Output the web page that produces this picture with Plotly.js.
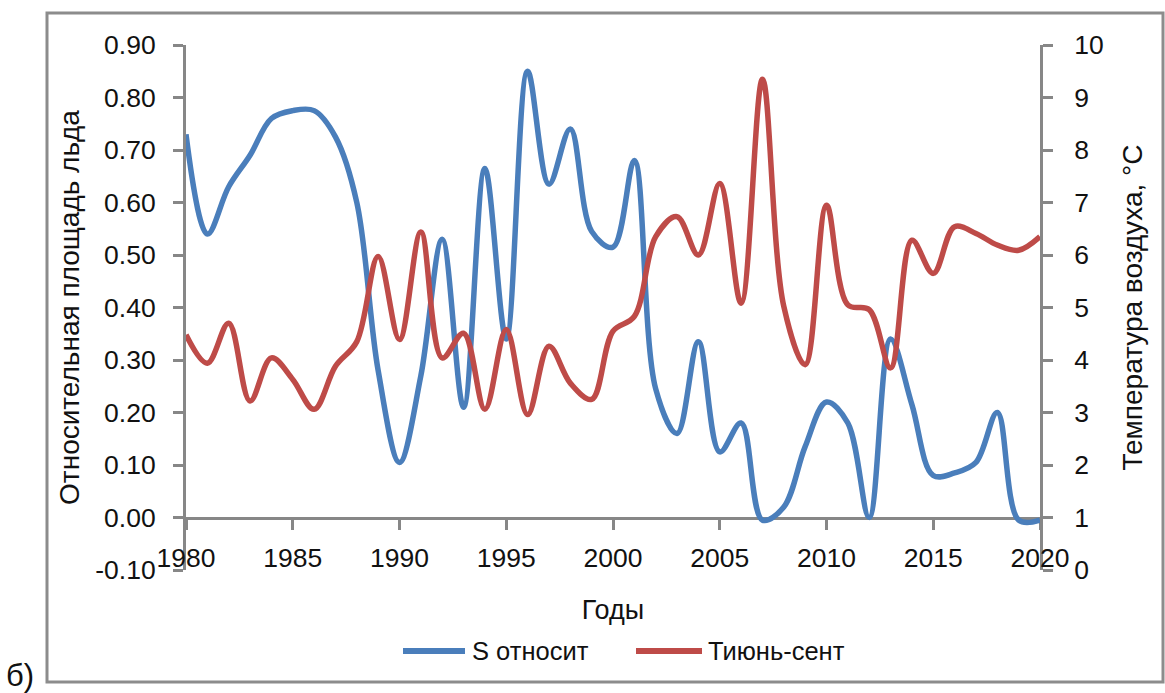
<!DOCTYPE html>
<html>
<head>
<meta charset="utf-8">
<script src="https://cdn.plot.ly/plotly-3.0.1.min.js"></script>
<style>
  html, body { margin: 0; padding: 0; background: #ffffff; }
  #chart { width: 1165px; height: 693px; }
</style>
</head>
<body>
<div id="chart"></div>
<script>
// Years of observation
const years = [
  1980, 1981, 1982, 1983, 1984, 1985, 1986, 1987, 1988, 1989,
  1990, 1991, 1992, 1993, 1994, 1995, 1996, 1997, 1998, 1999,
  2000, 2001, 2002, 2003, 2004, 2005, 2006, 2007, 2008, 2009,
  2010, 2011, 2012, 2013, 2014, 2015, 2016, 2017, 2018, 2019,
  2020
];

// Relative ice area (left axis)
const iceShare = [
  0.73, 0.54, 0.63, 0.69, 0.76, 0.775, 0.775, 0.725, 0.60, 0.28,
  0.105, 0.27, 0.53, 0.21, 0.665, 0.34, 0.85, 0.635, 0.74, 0.545,
  0.515, 0.68, 0.245, 0.16, 0.335, 0.125, 0.18, -0.005, 0.02, 0.135,
  0.22, 0.18, 0.0, 0.34, 0.215, 0.08, 0.085, 0.105, 0.20, -0.005,
  -0.005
];

// Mean June–September air temperature, °C (right axis)
const airTemp = [
  4.48, 3.94, 4.70, 3.22, 4.04, 3.63, 3.06, 3.88, 4.35, 5.97,
  4.39, 6.44, 4.04, 4.51, 3.06, 4.58, 2.96, 4.26, 3.56, 3.25,
  4.55, 4.83, 6.35, 6.73, 6.00, 7.36, 5.08, 9.35, 5.02, 3.91,
  6.95, 5.05, 4.96, 3.85, 6.28, 5.65, 6.54, 6.41, 6.19, 6.09,
  6.35
];

// Left-axis tick values (labels printed with two decimals)
const leftTicks = [-0.1, 0, 0.1, 0.2, 0.3, 0.4, 0.5, 0.6, 0.7, 0.8, 0.9];

const seriesNames = ['S относит', 'Тиюнь-сент'];
const seriesColors = ['#4a7ebb', '#be4b48'];

const titles = {
  x: 'Годы',
  yLeft: 'Относительная площадь льда',
  yRight: 'Температура воздуха, °С',
  panel: 'б)'
};

// Canvas and plot-area geometry (pixels)
const W = 1165, H = 693;
const M = { l: 186, r: 125, t: 45, b: 123 };
const PW = W - M.l - M.r, PH = H - M.t - M.b;
const px = x => (x - M.l) / PW;          // pixel x -> paper x
const py = y => (H - M.b - y) / PH;      // pixel y -> paper y

const FONT = 'Liberation Sans, Arial, sans-serif';
const TXT = '#111111';
const AXIS = '#878787';

const traces = [
  {
    x: years, y: iceShare, name: seriesNames[0], type: 'scatter', mode: 'lines',
    line: { color: seriesColors[0], width: 5.5, shape: 'spline', smoothing: 1 },
    yaxis: 'y', showlegend: false, cliponaxis: false
  },
  {
    x: years, y: airTemp, name: seriesNames[1], type: 'scatter', mode: 'lines',
    line: { color: seriesColors[1], width: 5.5, shape: 'spline', smoothing: 1 },
    yaxis: 'y2', showlegend: false, cliponaxis: false
  }
];

// Hand-built legend: line sample + label for each series
const legendY = py(651);
const legendItems = [
  { x0: 403, x1: 465, tx: 470 },
  { x0: 636, x1: 702, tx: 706 }
];
const shapes = [
  // outer frame
  { type: 'rect', xref: 'paper', yref: 'paper',
    x0: px(47), x1: px(1163), y0: py(682), y1: py(13),
    line: { color: '#8c8c8c', width: 3 }, fillcolor: 'rgba(0,0,0,0)', layer: 'below' }
];
const annotations = [];
legendItems.forEach((it, i) => {
  shapes.push({ type: 'line', xref: 'paper', yref: 'paper',
    x0: px(it.x0), x1: px(it.x1), y0: legendY, y1: legendY,
    line: { color: seriesColors[i], width: 6 } });
  annotations.push({ xref: 'paper', yref: 'paper', x: px(it.tx), y: legendY,
    xanchor: 'left', yanchor: 'middle', showarrow: false,
    text: seriesNames[i], font: { family: FONT, size: 25.5, color: TXT } });
});
annotations.push({ xref: 'paper', yref: 'paper', x: px(4), y: py(675),
  xanchor: 'left', yanchor: 'middle', showarrow: false,
  text: titles.panel, font: { family: FONT, size: 31, color: TXT } });

const layout = {
  width: W, height: H,
  margin: M,
  paper_bgcolor: '#ffffff', plot_bgcolor: '#ffffff',
  font: { family: FONT, size: 26, color: TXT },
  showlegend: false,
  xaxis: {
    range: [1980, 2020], dtick: 5, tick0: 1980,
    anchor: 'free', position: 0.1,
    showgrid: false, zeroline: false,
    showline: true, linecolor: AXIS, linewidth: 3,
    ticks: 'outside', ticklen: 10, tickwidth: 3, tickcolor: AXIS,
    ticklabelstandoff: 6,
    tickfont: { family: FONT, size: 26.5, color: TXT },
    title: { text: titles.x, standoff: 27, font: { family: FONT, size: 27, color: TXT } },
    layer: 'below traces', fixedrange: true
  },
  yaxis: {
    range: [-0.1, 0.9],
    tickmode: 'array', tickvals: leftTicks,
    ticktext: leftTicks.map(v => v.toFixed(2)),
    showgrid: false, zeroline: false,
    showline: true, linecolor: AXIS, linewidth: 3,
    ticks: 'outside', ticklen: 10, tickwidth: 3, tickcolor: AXIS,
    ticklabelstandoff: 12,
    tickfont: { family: FONT, size: 26.5, color: TXT },
    title: { text: titles.yLeft, standoff: 8, font: { family: FONT, size: 28, color: TXT } },
    layer: 'below traces', fixedrange: true
  },
  yaxis2: {
    range: [0, 10], dtick: 1, tick0: 0,
    overlaying: 'y', side: 'right',
    showgrid: false, zeroline: false,
    showline: true, linecolor: AXIS, linewidth: 3,
    ticks: 'outside', ticklen: 10, tickwidth: 3, tickcolor: AXIS,
    ticklabelstandoff: 16,
    tickfont: { family: FONT, size: 26.5, color: TXT },
    title: { text: titles.yRight, standoff: 20, font: { family: FONT, size: 28, color: TXT } },
    layer: 'below traces', fixedrange: true
  },
  shapes: shapes,
  annotations: annotations
};

Plotly.newPlot('chart', traces, layout, { displayModeBar: false, staticPlot: true });
</script>
</body>
</html>
